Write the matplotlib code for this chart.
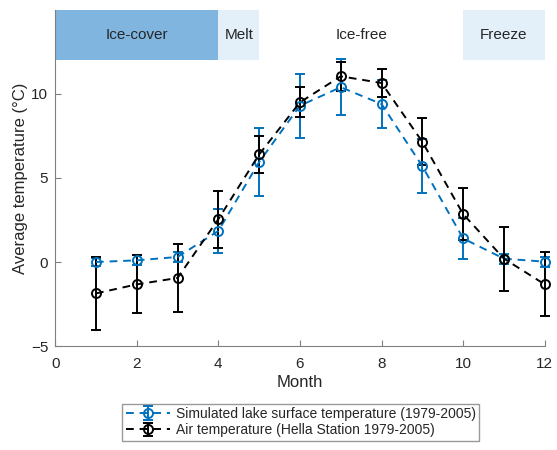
import numpy as np
import matplotlib
matplotlib.use('Agg')
from matplotlib import pyplot as plt

plt.rcParams['font.family'] = ['Liberation Sans', 'DejaVu Sans']

months = [1, 2, 3, 4, 5, 6, 7, 8, 9, 10, 11, 12]
lake_mean = [0.0, 0.1, 0.3, 1.85, 5.95, 9.3, 10.4, 9.4, 5.7, 1.4, 0.2, 0.02]
lake_err = [0.25, 0.3, 0.3, 1.3, 2.05, 1.9, 1.65, 1.45, 1.6, 1.2, 0.3, 0.3]
air_mean = [-1.87, -1.33, -0.95, 2.55, 6.4, 9.5, 11.05, 10.65, 7.15, 2.85, 0.2, -1.33]
air_err = [2.18, 1.73, 2.05, 1.7, 1.1, 0.9, 0.85, 0.85, 1.4, 1.55, 1.9, 1.9]

# seasons: (start month, end month, label, colour or None)
seasons = [(0, 4, 'Ice-cover', '#7FB5DF'),
           (4, 5, 'Melt', '#E3F0FA'),
           (5, 10, 'Ice-free', None),
           (10, 12, 'Freeze', '#E3F0FA')]

txt = '#262626'
blue = '#0072BD'

fig = plt.figure(figsize=(5.57, 4.5), dpi=100)
ax = fig.add_axes([0.099, 0.231, 0.879, 0.747])

for x0, x1, name, col in seasons:
    if col:
        ax.fill_between([x0, x1], 12, 15, color=col, lw=0, zorder=0)
    ax.text((x0 + x1) / 2, 13.5, name, ha='center', va='center', fontsize=11, color=txt)

style = dict(ls='--', lw=1.4, dashes=(4, 3), marker='o', ms=6.5, mfc='none', mew=1.4,
             capsize=3.5, elinewidth=1.4, capthick=1.4, clip_on=False)
ax.errorbar(months, lake_mean, yerr=lake_err, color=blue,
            label='Simulated lake surface temperature (1979-2005)', **style)
ax.errorbar(months, air_mean, yerr=air_err, color='black',
            label='Air temperature (Hella Station 1979-2005)', **style)

ax.set_xlim(0, 12)
ax.set_ylim(-5, 15)
ax.set_xticks([0, 2, 4, 6, 8, 10, 12])
ax.set_yticks([-5, 0, 5, 10])
for s in ['top', 'right']:
    ax.spines[s].set_visible(False)
for s in ['left', 'bottom']:
    ax.spines[s].set_color('#808080')
ax.tick_params(colors='#808080', labelcolor=txt, labelsize=11, length=4, direction='in', pad=5)
ax.tick_params(axis='x', pad=8)
ax.set_xlabel('Month', fontsize=12, color=txt, labelpad=3)
ax.set_ylabel('Average temperature (°C)', fontsize=12, color=txt, labelpad=2)

leg = fig.legend(loc='lower center', bbox_to_anchor=(0.54, 0.005), fontsize=10,
                 frameon=True, fancybox=False, edgecolor='#808080', handlelength=3.2,
                 borderpad=0.25, labelspacing=0.15, handletextpad=0.4)
for t in leg.get_texts():
    t.set_color(txt)

fig.savefig('out.png', dpi=100)
